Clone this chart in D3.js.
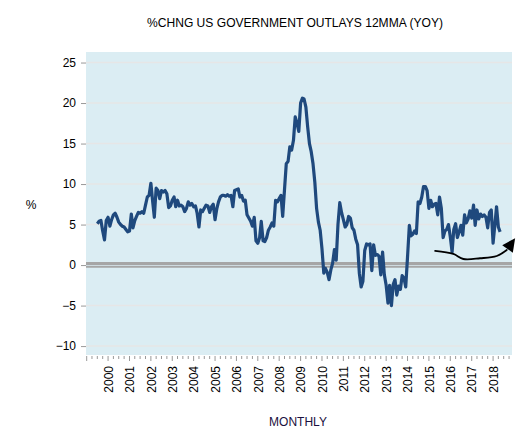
<!DOCTYPE html>
<html><head><meta charset="utf-8">
<script src="https://cdn.jsdelivr.net/npm/d3@7"></script>
<style>
body{margin:0;background:#fff;}
text{font-family:"Liberation Sans",Arial,sans-serif;}
</style>
</head><body>
<svg id="chart" width="530" height="446"></svg>
<script>
const title = "%CHNG US GOVERNMENT OUTLAYS 12MMA (YOY)";
const xTitle = "MONTHLY";
const yTitle = "%";
const seriesStart = [1999, 6]; // July 1999, monthly
const values = [
 5.1,5.4,5.5,4.2,3.1,5.5,
 5.9,4.8,5.6,6.2,6.4,5.9,5.3,5.0,4.8,4.7,4.4,4.1,
 4.2,6.3,4.6,5.5,6.0,6.5,6.4,6.6,6.4,7.4,8.4,8.6,
 10.1,7.8,5.9,9.5,9.2,8.2,9.2,9.0,9.2,8.8,7.1,7.3,
 8.0,8.4,7.2,8.0,7.3,7.4,7.2,6.6,7.0,7.8,7.4,7.6,
 7.2,7.3,6.4,4.7,6.8,6.6,7.0,7.4,7.3,6.5,7.2,7.5,
 5.6,7.0,7.8,8.4,8.6,8.6,8.5,8.7,8.5,8.6,7.2,9.2,
 9.3,9.4,8.4,8.6,7.9,8.0,6.2,5.8,5.4,4.8,5.9,3.0,
 2.7,3.4,5.4,3.0,2.9,3.4,4.3,4.7,5.2,4.8,8.0,7.8,
 8.2,8.6,6.0,9.3,12.5,12.8,14.6,14.2,15.4,18.3,17.5,16.5,
 20.0,20.6,20.5,19.5,17.1,15.0,14.0,12.5,10.2,7.0,5.3,4.3,
 2.0,-1.0,-0.4,-0.9,-1.8,-0.6,0.2,1.9,0.6,5.0,7.7,6.5,
 5.6,4.7,5.0,6.0,5.8,4.6,4.3,3.2,2.5,-1.0,-2.7,-2.0,
 1.8,2.6,2.5,2.6,-0.7,2.5,1.2,1.3,1.1,-1.2,1.6,-1.2,
 -2.5,-4.7,-2.5,-5.0,-2.4,-1.8,-3.7,-2.6,-3.0,-1.3,-1.6,-2.7,
 1.0,4.9,3.6,3.8,4.2,3.9,7.8,7.6,8.4,9.7,9.7,9.2,
 7.0,8.0,7.2,7.5,7.6,6.2,8.4,7.0,3.4,4.2,4.4,5.0,
 3.5,1.6,4.4,5.1,3.4,4.1,4.9,3.7,6.2,5.2,5.7,6.7,
 5.8,7.4,4.9,6.8,5.7,6.3,6.0,6.2,5.9,4.6,6.5,6.8,
 2.7,5.0,7.2,4.7,4.1
];
const yTicks = [-10, -5, 0, 5, 10, 15, 20, 25];
const yearLabels = ["2000","2001","2002","2003","2004","2005","2006","2007","2008","2009",
                    "2010","2011","2012","2013","2014","2015","2016","2017","2018"];
// hand-drawn annotation arrow, in (decimal year, %) units
const arrowYears = [2015.29, 2016.14, 2016.61, 2017.39, 2018.17, 2018.64, 2019.03];
const arrowVals  = [1.74, 1.37, 0.75, 0.84, 1.12, 1.86, 3.3];

const svg = d3.select("#chart");
const plot = {left: 86, right: 512, top: 52, bottom: 355};

const decYear = t => { const yr = Math.floor(t); const a = new Date(yr,0,1), b = new Date(yr+1,0,1); return new Date(+a + (t-yr)*(b-a)); };

const x = d3.scaleTime().domain([new Date(1998,11,20), new Date(2018,10,20)]).range([plot.left, plot.right]);
const y = d3.scaleLinear().domain([-11.1, 26.3]).range([plot.bottom, plot.top]);

const data = values.map((v,i) => ({date: new Date(seriesStart[0], seriesStart[1] + i, 1), v}));

// background
svg.append("rect").attr("x", plot.left).attr("y", plot.top)
  .attr("width", plot.right-plot.left).attr("height", plot.bottom-plot.top).attr("fill", "#dbedf3");

// gridlines
svg.append("g").selectAll("line").data(yTicks.filter(d => d !== 0)).join("line")
  .attr("x1", plot.left).attr("x2", plot.right)
  .attr("y1", d => y(d)).attr("y2", d => y(d))
  .attr("stroke", "#e6e6e6").attr("stroke-width", 1.5);

// zero lines
const y0 = y(0);
svg.append("line").attr("x1", plot.left).attr("x2", plot.right).attr("y1", y0-1.4).attr("y2", y0-1.4)
  .attr("stroke", "#a6a6a6").attr("stroke-width", 3.2);
svg.append("line").attr("x1", plot.left).attr("x2", plot.right).attr("y1", y0+1.8).attr("y2", y0+1.8)
  .attr("stroke", "#a6a6a6").attr("stroke-width", 1.8);

// y axis
const yAxis = d3.axisLeft(y).tickValues(yTicks).tickSize(5).tickPadding(5).tickFormat(d3.format("d"));
const gy = svg.append("g").attr("transform", `translate(${plot.left},0)`).call(yAxis);
gy.select(".domain").remove();
gy.selectAll(".tick line").attr("stroke", "#999");
gy.selectAll(".tick text").attr("font-size", 12).attr("fill", "#000").style("font-family", "Liberation Sans, Arial, sans-serif");

// x axis ticks: quarterly minor, yearly major
const minorDates = d3.timeMonth.every(3).range(new Date(1999,0,1), new Date(2018,10,1));
const gx = svg.append("g").attr("transform", `translate(0,${plot.bottom})`);
gx.selectAll("line.minor").data(minorDates).join("line")
  .attr("x1", d => x(d)).attr("x2", d => x(d))
  .attr("y1", 1).attr("y2", d => d.getMonth() === 0 ? 6 : 4)
  .attr("stroke", "#999").attr("stroke-width", 1);
const xAxis = d3.axisBottom(x).tickValues(yearLabels.map(s => new Date(+s, 0, 1)))
  .tickSize(0).tickFormat(d3.timeFormat("%Y"));
const gxl = svg.append("g").attr("transform", `translate(0,${plot.bottom})`).call(xAxis);
gxl.select(".domain").remove();
gxl.selectAll(".tick text")
  .attr("font-size", 12).attr("fill", "#000")
  .style("font-family", "Liberation Sans, Arial, sans-serif")
  .attr("transform", "rotate(-90)")
  .attr("text-anchor", "end")
  .attr("x", -11).attr("y", 0).attr("dy", "0.35em");

// series line
const line = d3.line().x(d => x(d.date)).y(d => y(d.v));
svg.append("path").datum(data).attr("d", line)
  .attr("fill", "none").attr("stroke", "#1f497d").attr("stroke-width", 3.2)
  .attr("stroke-linejoin", "round");

// annotation arrow
const arrowData = arrowYears.map((t,i) => [x(decYear(t)), y(arrowVals[i])]);
const shaft = arrowData.slice(0, -1);
svg.append("path").attr("d", d3.line().curve(d3.curveCatmullRom)(shaft))
  .attr("fill", "none").attr("stroke", "#000").attr("stroke-width", 1.8).attr("stroke-linecap", "round");
{
  const tip = arrowData[arrowData.length-1];
  const prev = arrowData[arrowData.length-2];
  const ang = Math.atan2(tip[1]-prev[1], tip[0]-prev[0]);
  const L = 13, Wd = 6.5;
  const bx = tip[0] - L*Math.cos(ang), by = tip[1] - L*Math.sin(ang);
  const p1 = [bx + Wd*Math.sin(ang), by - Wd*Math.cos(ang)];
  const p2 = [bx - Wd*Math.sin(ang), by + Wd*Math.cos(ang)];
  svg.append("path").attr("d", `M${tip}L${p1}L${p2}Z`).attr("fill", "#000");
}

// titles
svg.append("text").attr("x", 295).attr("y", 27).attr("text-anchor", "middle")
  .attr("font-size", 12).attr("fill", "#000").attr("textLength", 296).attr("lengthAdjust", "spacingAndGlyphs").text(title);
svg.append("text").attr("x", 298).attr("y", 426).attr("text-anchor", "middle")
  .attr("font-size", 12).attr("fill", "#1a1040").text(xTitle);
svg.append("text").attr("x", 31).attr("y", 209).attr("text-anchor", "middle")
  .attr("font-size", 12).attr("fill", "#000").text(yTitle);
</script>
</body></html>
